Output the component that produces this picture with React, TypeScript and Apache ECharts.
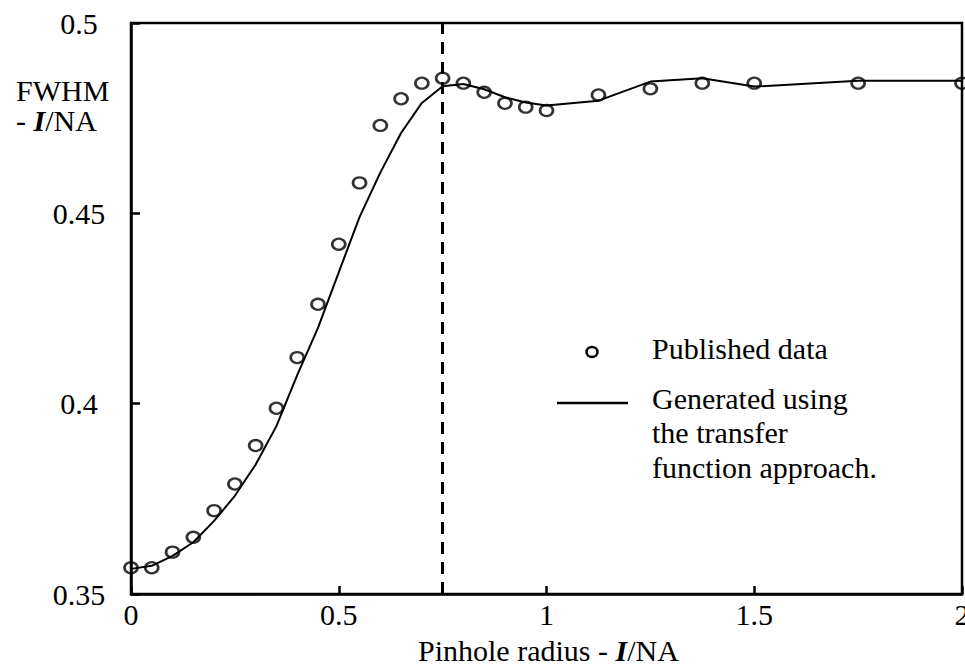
import React, { useEffect, useRef } from "react";
import * as echarts from "echarts";

const radiusX = [0, 0.05, 0.1, 0.15, 0.2, 0.25, 0.3, 0.35, 0.4, 0.45, 0.5, 0.55, 0.6, 0.65, 0.7, 0.75, 0.8, 0.85, 0.9, 0.95, 1.0, 1.125, 1.25, 1.375, 1.5, 1.75, 2.0];
const publishedY = [0.3569, 0.3569, 0.361, 0.3649, 0.3719, 0.3789, 0.389, 0.3988, 0.4121, 0.4261, 0.4419, 0.458, 0.4731, 0.4801, 0.4842, 0.4855, 0.4842, 0.4818, 0.4789, 0.4779, 0.477, 0.4811, 0.4827, 0.4842, 0.4842, 0.4842, 0.4842];
const generatedY = [0.3566, 0.3574, 0.36, 0.3636, 0.3692, 0.3758, 0.384, 0.3941, 0.4075, 0.4199, 0.4345, 0.449, 0.4607, 0.4711, 0.479, 0.4834, 0.484, 0.4826, 0.4805, 0.4791, 0.4783, 0.4796, 0.4846, 0.4855, 0.4833, 0.4848, 0.4848];
const cutoffX = 0.75;
const yTicks = { min: 0.35, max: 0.5, interval: 0.05 };
const xTicks = { min: 0, max: 2, interval: 0.5 };

const FONT = '"Liberation Serif", "Times New Roman", serif';
const FS = 30;

export default function App() {
  const ref = useRef<HTMLDivElement>(null);
  useEffect(() => {
    if (!ref.current) return;
    const chart = echarts.init(ref.current, undefined, { renderer: "svg" });
    const pub = radiusX.map((x, i) => [x, publishedY[i]]);
    const gen = radiusX.map((x, i) => [x, generatedY[i]]);
    const txt = { fontFamily: FONT, fontSize: FS, color: "#000" };
    const bi = { fontFamily: FONT, fontSize: FS, fontStyle: "italic", fontWeight: "bold", fill: "#000" };
    chart.setOption({
      animation: false,
      backgroundColor: "#fff",
      grid: {
        left: 131,
        right: 3,
        top: 23,
        bottom: 77,
        show: true,
        borderColor: "#000",
        borderWidth: 2.5,
        containLabel: false,
        outerBoundsMode: "none",
      },
      xAxis: {
        type: "value",
        min: xTicks.min,
        max: xTicks.max,
        interval: xTicks.interval,
        splitLine: { show: false },
        axisLine: { show: true, lineStyle: { color: "#000", width: 2.5 } },
        axisTick: { show: true, inside: true, length: 8, lineStyle: { color: "#000", width: 2.5 } },
        axisLabel: { ...txt, margin: 5, hideOverlap: false },
      },
      yAxis: {
        type: "value",
        min: yTicks.min,
        max: yTicks.max,
        interval: yTicks.interval,
        splitLine: { show: false },
        axisLine: { show: true, lineStyle: { color: "#000", width: 2.5 } },
        axisTick: { show: true, inside: true, length: 9, lineStyle: { color: "#000", width: 2.5 } },
        axisLabel: { ...txt, margin: 52, align: "center", hideOverlap: false },
      },
      series: [
        {
          name: "Generated using the transfer function approach.",
          type: "line",
          data: gen,
          showSymbol: false,
          symbol: "none",
          lineStyle: { color: "#000", width: 2 },
          z: 2,
          markLine: {
            silent: true,
            symbol: "none",
            label: { show: false },
            lineStyle: { color: "#000", width: 3, type: [12, 8] },
            data: [{ xAxis: cutoffX }],
          },
        },
        {
          name: "Published data",
          type: "scatter",
          data: pub,
          symbol: "circle",
          symbolSize: [13, 11],
          clip: false,
          itemStyle: { color: "rgba(255,255,255,0)", borderColor: "#000", borderWidth: 2.5 },
          z: 3,
        },
      ],
      graphic: [
        {
          type: "text",
          left: 16,
          top: 75,
          style: { text: "FWHM", font: `${FS}px ${FONT}`, fill: "#000" },
        },
        {
          type: "text",
          left: 16,
          top: 105,
          style: {
            text: "- {b|I}/NA",
            font: `${FS}px ${FONT}`,
            fill: "#000",
            rich: { b: bi },
          },
        },
        {
          type: "text",
          left: 418,
          top: 635,
          style: {
            text: "Pinhole radius - {b|I}/NA",
            font: `${FS}px ${FONT}`,
            fill: "#000",
            rich: { b: bi },
          },
        },
        {
          type: "ellipse",
          shape: { cx: 592, cy: 352, rx: 5.5, ry: 5 },
          style: { fill: "none", stroke: "#000", lineWidth: 2.5 },
        },
        {
          type: "line",
          shape: { x1: 557, y1: 403, x2: 628, y2: 403 },
          style: { stroke: "#000", lineWidth: 2.5 },
        },
        {
          type: "text",
          left: 652,
          top: 333,
          style: { text: "Published data", font: `${FS}px ${FONT}`, fill: "#000" },
        },
        {
          type: "text",
          left: 652,
          top: 381,
          style: {
            text: "Generated using\nthe transfer\nfunction approach.",
            font: `${FS}px ${FONT}`,
            lineHeight: 34.5,
            fill: "#000",
          },
        },
      ],
    });
    return () => chart.dispose();
  }, []);
  return (
    <div
      ref={ref}
      style={{ position: "absolute", left: 0, top: 0, width: 965, height: 671 }}
    />
  );
}
